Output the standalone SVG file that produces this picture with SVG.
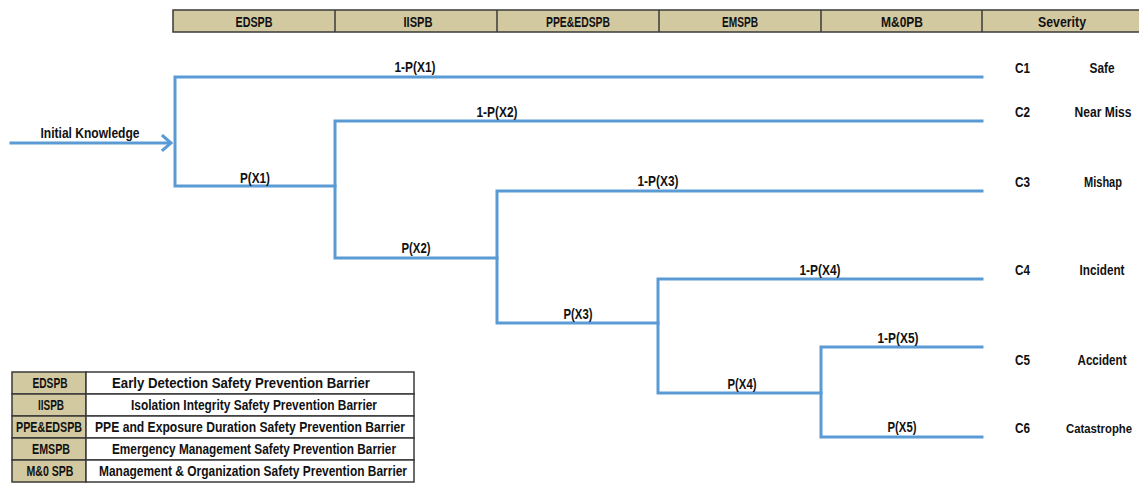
<svg xmlns="http://www.w3.org/2000/svg" width="1139" height="484" viewBox="0 0 1139 484">
<style>
text{font-family:"Liberation Sans",Arial,sans-serif;font-weight:bold;fill:#111111;}
.h{font-size:14.5px;text-anchor:middle;}
.lb{font-size:14px;text-anchor:middle;}
.c{font-size:14px;}
.s{font-size:14px;text-anchor:middle;}
.lg{font-size:14px;text-anchor:middle;}
.tan{fill:#D3C9A1;stroke:#3a3a3a;stroke-width:1.5;}
.wh{fill:#ffffff;stroke:#3a3a3a;stroke-width:1.5;}
.ln{stroke:#5B9BD5;stroke-width:3;fill:none;stroke-linecap:square;}
</style>
<rect width="1139" height="484" fill="#ffffff"/>
<g id="header">
<rect class="tan" x="173" y="10" width="968" height="22"/>
<line x1="335" y1="10" x2="335" y2="32" stroke="#3a3a3a" stroke-width="1.5"/>
<line x1="497" y1="10" x2="497" y2="32" stroke="#3a3a3a" stroke-width="1.5"/>
<line x1="659" y1="10" x2="659" y2="32" stroke="#3a3a3a" stroke-width="1.5"/>
<line x1="821" y1="10" x2="821" y2="32" stroke="#3a3a3a" stroke-width="1.5"/>
<line x1="982" y1="10" x2="982" y2="32" stroke="#3a3a3a" stroke-width="1.5"/>
<text class="h" x="254" y="26.5" textLength="37" lengthAdjust="spacingAndGlyphs">EDSPB</text>
<text class="h" x="418" y="26.5" textLength="29" lengthAdjust="spacingAndGlyphs">IISPB</text>
<text class="h" x="578" y="26.5" textLength="64" lengthAdjust="spacingAndGlyphs">PPE&amp;EDSPB</text>
<text class="h" x="740" y="26.5" textLength="36" lengthAdjust="spacingAndGlyphs">EMSPB</text>
<text class="h" x="902" y="26.5" textLength="42" lengthAdjust="spacingAndGlyphs">M&amp;0PB</text>
<text class="h" x="1062" y="26.5" textLength="48" lengthAdjust="spacingAndGlyphs">Severity</text>
</g>
<g id="connectors">
<line class="ln" x1="11" y1="143" x2="170" y2="143"/>
<polyline class="ln" points="163,136 171,143 163,150" stroke-linecap="round" stroke-linejoin="miter"/>
<polyline class="ln" points="982,77 175,77 175,186 335,186"/>
<polyline class="ln" points="982,121 335,121 335,258 497,258"/>
<polyline class="ln" points="982,191 497,191 497,323 658,323"/>
<polyline class="ln" points="982,279 658,279 658,393 821,393"/>
<polyline class="ln" points="982,347 821,347 821,437 982,437"/>
</g>
<g id="edge-labels">
<text class="lb" x="90" y="138" textLength="99" lengthAdjust="spacingAndGlyphs">Initial Knowledge</text>
<text class="lb" x="415" y="72" textLength="41" lengthAdjust="spacingAndGlyphs">1-P(X1)</text>
<text class="lb" x="255" y="183" textLength="30" lengthAdjust="spacingAndGlyphs">P(X1)</text>
<text class="lb" x="497" y="117" textLength="41" lengthAdjust="spacingAndGlyphs">1-P(X2)</text>
<text class="lb" x="416" y="253" textLength="29" lengthAdjust="spacingAndGlyphs">P(X2)</text>
<text class="lb" x="658" y="186" textLength="41" lengthAdjust="spacingAndGlyphs">1-P(X3)</text>
<text class="lb" x="578" y="319" textLength="29" lengthAdjust="spacingAndGlyphs">P(X3)</text>
<text class="lb" x="820" y="275" textLength="41" lengthAdjust="spacingAndGlyphs">1-P(X4)</text>
<text class="lb" x="742" y="389" textLength="29" lengthAdjust="spacingAndGlyphs">P(X4)</text>
<text class="lb" x="898" y="343" textLength="41" lengthAdjust="spacingAndGlyphs">1-P(X5)</text>
<text class="lb" x="902" y="432" textLength="29" lengthAdjust="spacingAndGlyphs">P(X5)</text>
</g>
<g id="C1"><text class="c" x="1015" y="73" textLength="15" lengthAdjust="spacingAndGlyphs">C1</text><text class="s" x="1102" y="73" textLength="25" lengthAdjust="spacingAndGlyphs">Safe</text></g>
<g id="C2"><text class="c" x="1015" y="117" textLength="15" lengthAdjust="spacingAndGlyphs">C2</text><text class="s" x="1103" y="117" textLength="57" lengthAdjust="spacingAndGlyphs">Near Miss</text></g>
<g id="C3"><text class="c" x="1015" y="187" textLength="15" lengthAdjust="spacingAndGlyphs">C3</text><text class="s" x="1103" y="187" textLength="38" lengthAdjust="spacingAndGlyphs">Mishap</text></g>
<g id="C4"><text class="c" x="1015" y="275" textLength="15" lengthAdjust="spacingAndGlyphs">C4</text><text class="s" x="1102" y="275" textLength="45" lengthAdjust="spacingAndGlyphs">Incident</text></g>
<g id="C5"><text class="c" x="1015" y="365" textLength="15" lengthAdjust="spacingAndGlyphs">C5</text><text class="s" x="1102" y="365" textLength="49" lengthAdjust="spacingAndGlyphs">Accident</text></g>
<g id="C6"><text class="c" x="1015" y="433" textLength="15" lengthAdjust="spacingAndGlyphs">C6</text><text class="s" x="1099" y="433" style="font-size:12.5px" textLength="66" lengthAdjust="spacingAndGlyphs">Catastrophe</text></g>
<g id="legend">
<rect class="tan" x="12" y="372" width="74" height="22"/><rect class="wh" x="86" y="372" width="328" height="22"/>
<rect class="tan" x="12" y="394" width="74" height="22"/><rect class="wh" x="86" y="394" width="328" height="22"/>
<rect class="tan" x="12" y="416" width="74" height="22"/><rect class="wh" x="86" y="416" width="328" height="22"/>
<rect class="tan" x="12" y="438" width="74" height="22"/><rect class="wh" x="86" y="438" width="328" height="22"/>
<rect class="tan" x="12" y="460" width="74" height="22"/><rect class="wh" x="86" y="460" width="328" height="22"/>
<text class="lg" x="50" y="388" textLength="35" lengthAdjust="spacingAndGlyphs">EDSPB</text>
<text class="lg" x="51" y="410" textLength="26" lengthAdjust="spacingAndGlyphs">IISPB</text>
<text class="lg" x="49" y="432" textLength="66" lengthAdjust="spacingAndGlyphs">PPE&amp;EDSPB</text>
<text class="lg" x="51" y="454" textLength="38" lengthAdjust="spacingAndGlyphs">EMSPB</text>
<text class="lg" x="50" y="476" textLength="47" lengthAdjust="spacingAndGlyphs">M&amp;0 SPB</text>
<text class="lg" x="241" y="388" textLength="258" lengthAdjust="spacingAndGlyphs">Early Detection Safety Prevention Barrier</text>
<text class="lg" x="254" y="410" textLength="246" lengthAdjust="spacingAndGlyphs">Isolation Integrity Safety Prevention Barrier</text>
<text class="lg" x="250" y="432" textLength="310" lengthAdjust="spacingAndGlyphs">PPE and Exposure Duration Safety Prevention Barrier</text>
<text class="lg" x="254" y="454" textLength="284" lengthAdjust="spacingAndGlyphs">Emergency Management Safety Prevention Barrier</text>
<text class="lg" x="253" y="476" textLength="308" lengthAdjust="spacingAndGlyphs">Management &amp; Organization Safety Prevention Barrier</text>
</g>
</svg>
